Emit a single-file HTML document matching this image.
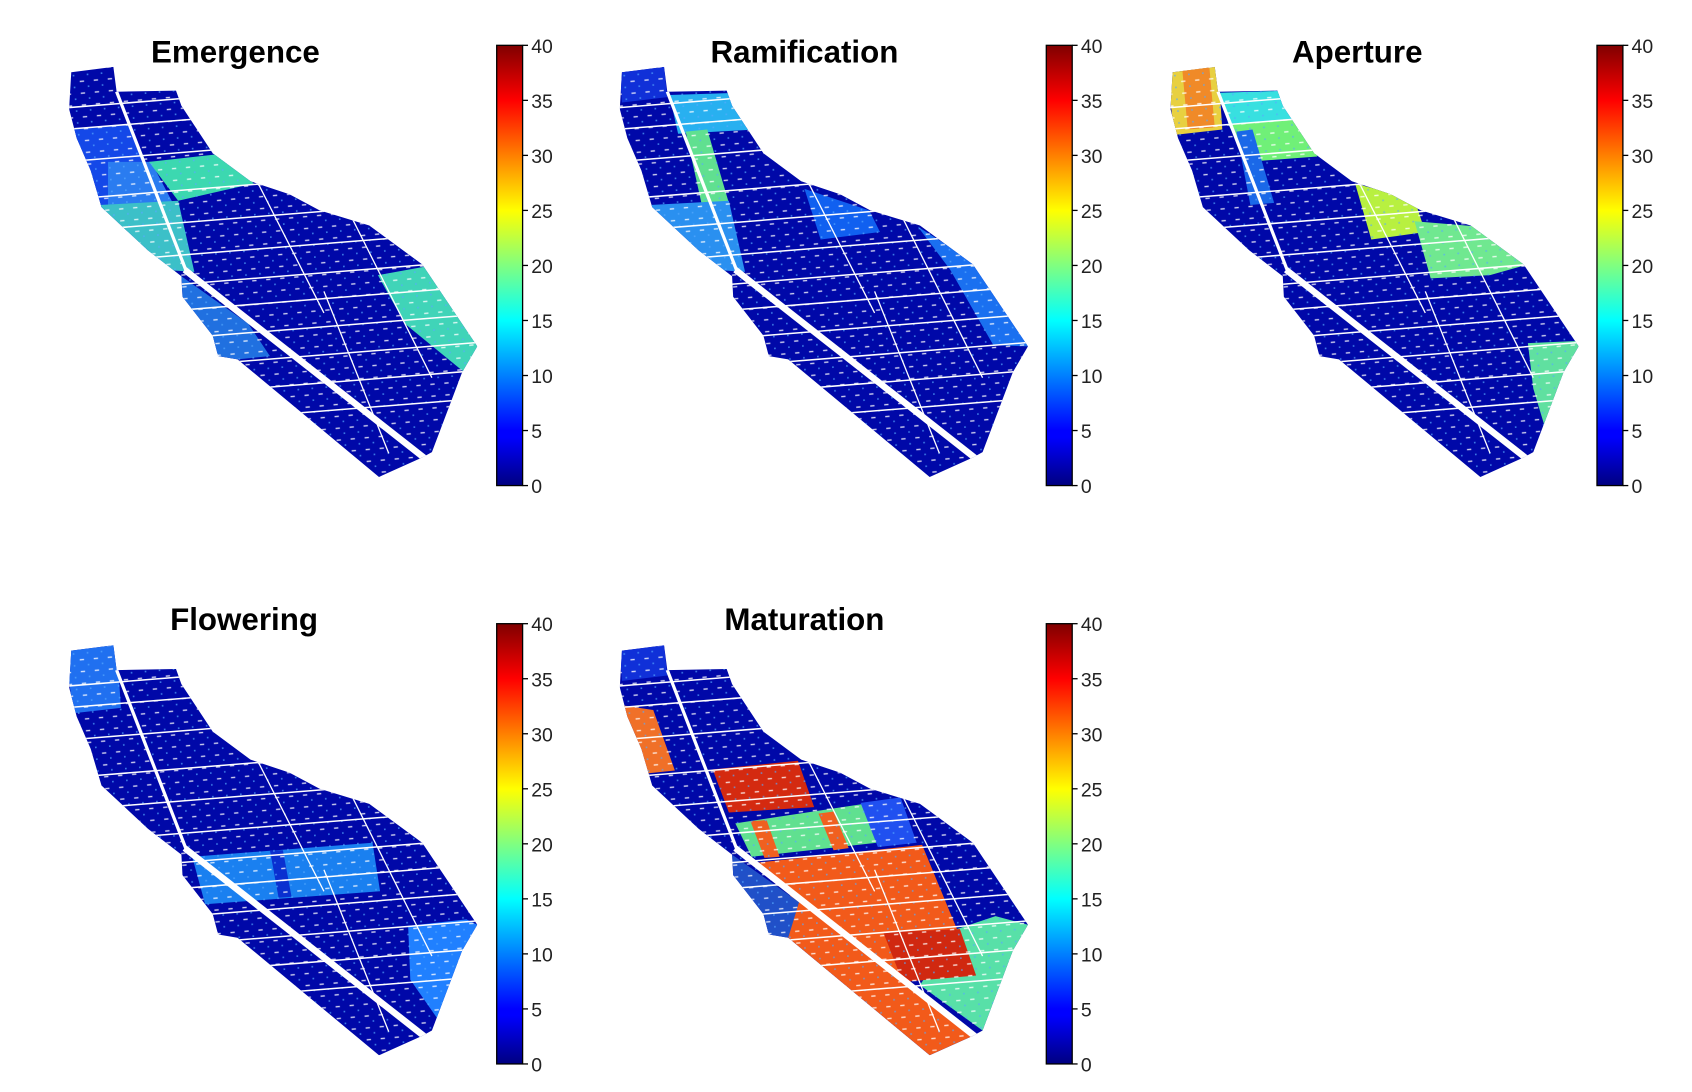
<!DOCTYPE html>
<html><head><meta charset="utf-8"><style>
html,body{margin:0;padding:0;background:#fff;}
svg{display:block;}
text{font-family:"Liberation Sans",sans-serif;}
</style></head><body>
<svg width="1692" height="1092" viewBox="0 0 1567 1012" preserveAspectRatio="none" xmlns="http://www.w3.org/2000/svg">
<defs>
<linearGradient id="jet" x1="0" y1="1" x2="0" y2="0">
<stop offset="0" stop-color="#000080"/><stop offset="0.11" stop-color="#0000ff"/>
<stop offset="0.125" stop-color="#0000ff"/><stop offset="0.375" stop-color="#00ffff"/>
<stop offset="0.5" stop-color="#80ff80"/><stop offset="0.625" stop-color="#ffff00"/>
<stop offset="0.875" stop-color="#ff0000"/><stop offset="1" stop-color="#800000"/>
</linearGradient>
<clipPath id="field"><polygon points="66,67 105,62 108,85 163,84 168,98 197,142 232,168 268,180 296,195 342,209 391,245 442,321 428,345 400,419 391,424 351,442 220,333 202,330 197,311 169,275 168,256 137,232 94,192 84,158 71,128 64,101"/></clipPath>
<pattern id="dash" width="13" height="11" patternUnits="userSpaceOnUse" patternTransform="rotate(-5)">
<rect x="2" y="4" width="4" height="1.3" fill="#fff" opacity="0.8"/><rect x="9" y="9" width="1.5" height="1.5" fill="#5af" opacity="0.7"/>
</pattern>
<g id="grid" stroke="#fff" fill="none">
<g stroke-width="1.4">
<line x1="60" y1="120" x2="460" y2="88"/><line x1="60" y1="150" x2="460" y2="118"/>
<line x1="60" y1="185" x2="460" y2="153"/><line x1="60" y1="215" x2="460" y2="183"/>
<line x1="60" y1="245" x2="460" y2="213"/><line x1="60" y1="272" x2="460" y2="240"/>
<line x1="60" y1="296" x2="460" y2="264"/><line x1="60" y1="322" x2="460" y2="290"/>
<line x1="60" y1="348" x2="460" y2="316"/><line x1="60" y1="374" x2="460" y2="342"/>
<line x1="60" y1="400" x2="460" y2="368"/>
<line x1="60" y1="100" x2="460" y2="68"/>
</g>
<g stroke-width="1.2">
<line x1="234" y1="160" x2="300" y2="290"/><line x1="325" y1="200" x2="400" y2="350"/>
<line x1="170" y1="280" x2="260" y2="420"/><line x1="300" y1="270" x2="360" y2="420"/>
</g>
<line x1="108" y1="85" x2="172" y2="250" stroke-width="3"/>
<line x1="171" y1="250" x2="395" y2="426" stroke-width="6"/>
</g>
</defs>

<!-- Panel 1 Emergence -->
<g>
<g clip-path="url(#field)">
<rect x="0" y="0" width="500" height="500" fill="#0008a8"/>
<polygon points="64,120 120,116 135,150 150,190 95,195 80,160" fill="#1448e8"/>
<polygon points="100,150 140,150 160,188 100,195" fill="#2a7cf0"/>
<polygon points="138,150 210,142 235,170 165,186" fill="#3cd8b0"/>
<polygon points="92,190 165,186 180,252 150,250 110,215" fill="#3cc0c8"/>
<polygon points="168,256 230,300 250,330 220,333 202,330 169,275" fill="#2070e0"/>
<polygon points="350,255 405,245 442,321 430,345 375,300" fill="#40d4b8"/>
<rect x="0" y="0" width="500" height="500" fill="url(#dash)"/>
<use href="#grid"/>
</g>
<text x="218" y="58" font-size="29" font-weight="bold" text-anchor="middle">Emergence</text>
</g>

<!-- Panel 2 Ramification -->
<g transform="translate(510,0)">
<g clip-path="url(#field)">
<rect x="0" y="0" width="500" height="500" fill="#0008a8"/>
<polygon points="64,67 105,62 108,90 66,95" fill="#1030d8"/>
<polygon points="110,88 175,86 190,120 118,124" fill="#28b0f0"/>
<polygon points="125,122 145,120 165,188 140,190" fill="#60e090"/>
<polygon points="92,190 165,186 180,252 150,250 110,215" fill="#2a90f0"/>
<polygon points="235,175 295,195 305,215 250,222" fill="#1060f0"/>
<polygon points="340,210 395,245 442,321 410,320 370,250" fill="#1a70f0"/>
<rect x="0" y="0" width="500" height="500" fill="url(#dash)"/>
<use href="#grid"/>
</g>
<text x="235" y="58" font-size="29" font-weight="bold" text-anchor="middle">Ramification</text>
</g>

<!-- Panel 3 Aperture -->
<g transform="translate(1020,0)">
<g clip-path="url(#field)">
<rect x="0" y="0" width="500" height="500" fill="#0008a8"/>
<polygon points="60,65 108,60 112,120 68,125" fill="#e8d040"/>
<polygon points="75,65 100,62 105,118 80,120" fill="#f08a28"/>
<polygon points="110,86 172,84 180,112 118,116" fill="#38e0e0"/>
<polygon points="118,116 185,110 200,145 135,150" fill="#70f078"/>
<polygon points="125,122 140,120 160,188 138,190" fill="#1a68e8"/>
<polygon points="235,170 290,185 300,215 250,222" fill="#b8f040"/>
<polygon points="290,205 350,210 395,245 360,255 305,258" fill="#70e890"/>
<polygon points="395,318 440,316 442,321 415,410 400,360" fill="#60e0a0"/>
<rect x="0" y="0" width="500" height="500" fill="url(#dash)"/>
<use href="#grid"/>
</g>
<text x="237" y="58" font-size="29" font-weight="bold" text-anchor="middle">Aperture</text>
</g>

<!-- Panel 4 Flowering -->
<g transform="translate(0,536)">
<g clip-path="url(#field)">
<rect x="0" y="0" width="500" height="500" fill="#0008a8"/>
<polygon points="60,65 108,60 112,120 68,125" fill="#2070f0"/>
<polygon points="178,258 345,245 352,290 190,302" fill="#1a80f0"/>
<polygon points="250,252 262,252 270,295 258,296" fill="#0a30d0"/>
<polygon points="378,322 432,316 442,321 410,415 380,372" fill="#2080ff"/>
<rect x="0" y="0" width="500" height="500" fill="url(#dash)"/>
<use href="#grid"/>
</g>
<text x="226" y="48" font-size="29" font-weight="bold" text-anchor="middle">Flowering</text>
</g>

<!-- Panel 5 Maturation -->
<g transform="translate(510,536)">
<g clip-path="url(#field)">
<rect x="0" y="0" width="500" height="500" fill="#0008a8"/>
<polygon points="64,67 105,62 108,90 66,95" fill="#1030d8"/>
<polygon points="62,117 95,122 115,178 87,181" fill="#f07028"/>
<polygon points="150,177 229,169 244,212 165,217" fill="#d42a10"/>
<polygon points="171,227 290,209 302,245 186,258" fill="#60e090"/>
<polygon points="185,225 200,224 212,258 198,259" fill="#f06020"/>
<polygon points="248,218 262,216 276,250 262,252" fill="#f06020"/>
<polygon points="287,208 324,203 339,245 303,249" fill="#2050f0"/>
<polygon points="186,264 344,247 394,368 326,374" fill="#f25a1a"/>
<polygon points="226,290 391,424 351,442 220,333 215,300" fill="#f25a1a"/>
<polygon points="168,256 230,300 220,333 202,330 169,275" fill="#2050c8"/>
<polygon points="376,325 412,313 442,321 400,419 342,377" fill="#58e0a8"/>
<polygon points="308,328 379,325 394,368 326,374" fill="#d02810"/>
<rect x="0" y="0" width="500" height="500" fill="url(#dash)"/>
<use href="#grid"/>
</g>
<text x="235" y="48" font-size="29" font-weight="bold" text-anchor="middle">Maturation</text>
</g>

<!-- Colorbars -->
<g id="cb">
<rect x="460" y="42" width="24" height="408" fill="url(#jet)" stroke="#000" stroke-width="1.2"/>
<g stroke="#000" stroke-width="1.2">
<line x1="484" y1="42" x2="489" y2="42"/><line x1="484" y1="93" x2="489" y2="93"/>
<line x1="484" y1="144" x2="489" y2="144"/><line x1="484" y1="195" x2="489" y2="195"/>
<line x1="484" y1="246" x2="489" y2="246"/><line x1="484" y1="297" x2="489" y2="297"/>
<line x1="484" y1="348" x2="489" y2="348"/><line x1="484" y1="399" x2="489" y2="399"/>
<line x1="484" y1="450" x2="489" y2="450"/>
</g>
<g font-size="18" fill="#222">
<text x="492" y="49">40</text><text x="492" y="100">35</text><text x="492" y="151">30</text>
<text x="492" y="202">25</text><text x="492" y="253">20</text><text x="492" y="304">15</text>
<text x="492" y="355">10</text><text x="492" y="406">5</text><text x="492" y="457">0</text>
</g>
</g>
<use href="#cb" x="509" y="0"/>
<use href="#cb" x="1019" y="0"/>
<use href="#cb" x="0" y="536"/>
<use href="#cb" x="509" y="536"/>
</svg>
</body></html>
